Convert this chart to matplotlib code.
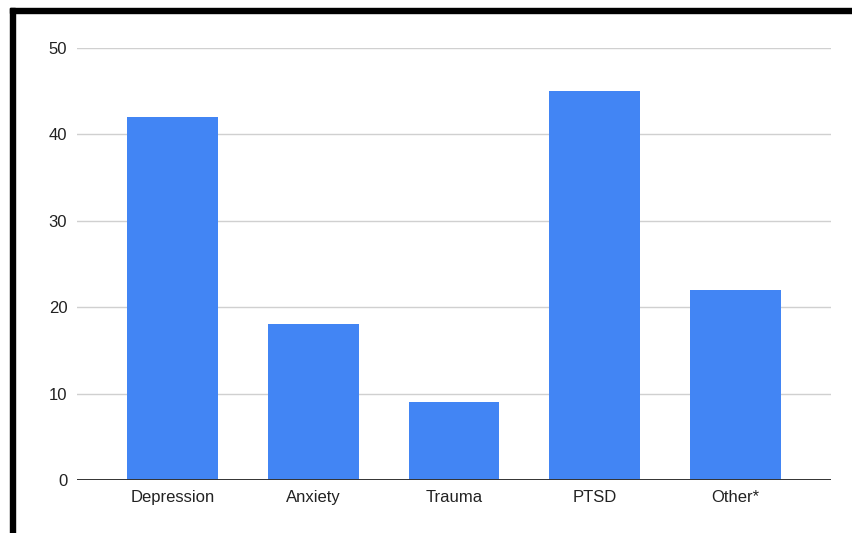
import matplotlib
matplotlib.use("Agg")
import matplotlib.pyplot as plt
from matplotlib.patches import Rectangle
import numpy as np

categories = ["Depression", "Anxiety", "Trauma", "PTSD", "Other*"]
counts = [42, 18, 9, 45, 22]
y_ticks = [0, 10, 20, 30, 40, 50]

plt.rcParams["font.family"] = ["Liberation Sans", "DejaVu Sans"]

fig = plt.figure(figsize=(8.52, 5.33), dpi=100)
ax = fig.add_axes([0.0904, 0.0994, 0.885, 0.8106])

x = np.arange(len(categories))
ax.bar(x, counts, width=0.645, color="#4285f4", zorder=3)

ax.set_xlim(-0.677, len(categories) - 1 + 0.677)
ax.set_ylim(0, 50)
ax.set_yticks(y_ticks)
ax.set_xticks(x)
ax.set_xticklabels(categories)
ax.yaxis.grid(True, color="#d0d0d0", lw=1.0, zorder=0)
ax.axhline(0, color="#333333", lw=1.4, zorder=4)

for side in ("top", "right", "left", "bottom"):
    ax.spines[side].set_visible(False)
ax.tick_params(axis="both", length=0, labelsize=12, colors="#222222")
ax.tick_params(axis="y", pad=7)
ax.tick_params(axis="x", pad=7)

# black frame along the top and left edges
fig.patches.append(Rectangle((10 / 852, 1 - 13 / 533), 1, 5 / 533,
                             transform=fig.transFigure, color="black"))
fig.patches.append(Rectangle((10 / 852, 0), 5 / 852, 1 - 8 / 533,
                             transform=fig.transFigure, color="black"))

fig.savefig("out.png", dpi=100)
